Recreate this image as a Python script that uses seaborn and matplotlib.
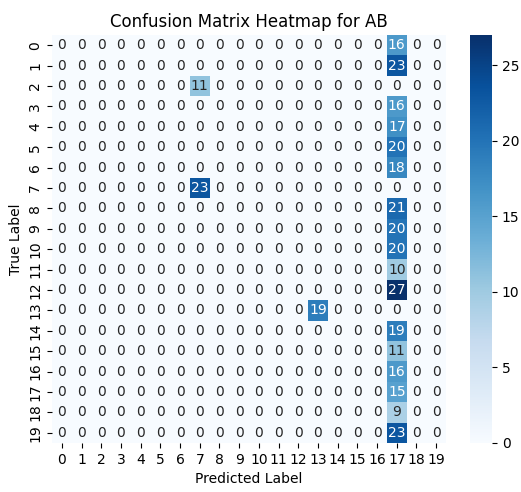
import numpy as np
import pandas as pd
import matplotlib
matplotlib.use("Agg")
import matplotlib.pyplot as plt
import seaborn as sns

labels = list(range(20))

# Off-diagonal / diagonal non-zero counts: (true, predicted, count)
nonzero_true = [0, 1, 2, 3, 4, 5, 6, 7, 8, 9, 10, 11, 12, 13, 14, 15, 16, 17, 18, 19]
nonzero_pred = [17, 17, 7, 17, 17, 17, 17, 7, 17, 17, 17, 17, 17, 13, 17, 17, 17, 17, 17, 17]
nonzero_count = [16, 23, 11, 16, 17, 20, 18, 23, 21, 20, 20, 10, 27, 19, 19, 11, 16, 15, 9, 23]

cm = np.zeros((len(labels), len(labels)), dtype=int)
for t, p, c in zip(nonzero_true, nonzero_pred, nonzero_count):
    cm[t, p] = c
df = pd.DataFrame(cm, index=labels, columns=labels)

fig = plt.figure(figsize=(5.21, 4.92), dpi=100)
ax = fig.add_axes([52 / 521, 1 - 443 / 492, 394 / 521, 408 / 492])
cax = fig.add_axes([470 / 521, 1 - 443 / 492, 22 / 521, 408 / 492])

sns.heatmap(df, annot=True, fmt="d", cmap="Blues", ax=ax, cbar_ax=cax)
ax.set_title("Confusion Matrix Heatmap for AB", fontsize=12)
ax.set_xlabel("Predicted Label")
ax.set_ylabel("True Label")

fig.savefig("out.png", dpi=100)
